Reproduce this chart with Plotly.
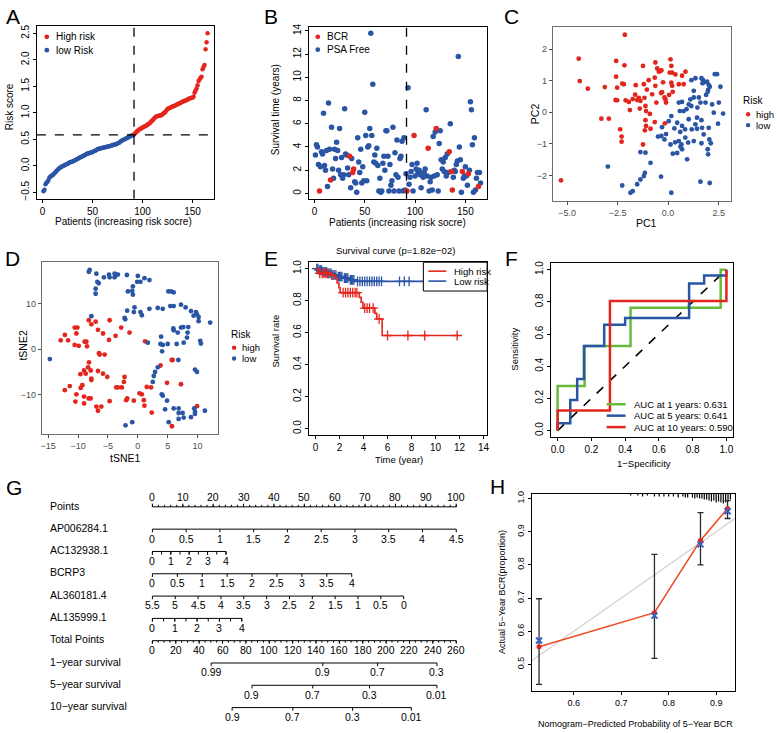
import plotly.graph_objects as go
import numpy as np

W, H = 777, 733
FONT = "Liberation Sans, Arial, sans-serif"
RED = "#E3261D"
BLUE = "#2A55A5"
GREEN = "#67BB3A"
GGGRAY = "#4D4D4D"

# ---------------- data ----------------
# A: risk score per patient (sorted)
risk_score = [
    -0.48, -0.45, -0.35, -0.32, -0.30, -0.27, -0.22, -0.20, -0.19, -0.18,
    -0.16, -0.14, -0.12, -0.10, -0.08, -0.06, -0.04, -0.03, -0.02, -0.01,
    0.00, 0.01, 0.02, 0.03, 0.04, 0.05, 0.06, 0.07, 0.07, 0.08,
    0.09, 0.10, 0.11, 0.12, 0.13, 0.14, 0.15, 0.16, 0.17, 0.18,
    0.19, 0.20, 0.21, 0.22, 0.23, 0.23, 0.24, 0.25, 0.25, 0.26,
    0.27, 0.28, 0.29, 0.30, 0.31, 0.32, 0.32, 0.33, 0.33, 0.34,
    0.34, 0.35, 0.35, 0.36, 0.36, 0.37, 0.37, 0.38, 0.38, 0.39,
    0.39, 0.40, 0.40, 0.41, 0.42, 0.43, 0.44, 0.46, 0.47, 0.48,
    0.49, 0.50, 0.51, 0.52, 0.53, 0.54, 0.55, 0.56, 0.57, 0.57,
    0.58,
    0.60, 0.62, 0.64, 0.66, 0.67, 0.69, 0.70, 0.71, 0.72, 0.73,
    0.74, 0.75, 0.76, 0.78, 0.79, 0.80, 0.82, 0.84, 0.86, 0.88,
    0.90, 0.92, 0.93, 0.94, 0.94, 0.95, 0.95, 0.96, 0.97, 0.99,
    1.00, 1.02, 1.05, 1.07, 1.08, 1.09, 1.10, 1.11, 1.12, 1.13,
    1.13, 1.14, 1.15, 1.16, 1.17, 1.18, 1.19, 1.20, 1.21, 1.22,
    1.22, 1.23, 1.24, 1.25, 1.26, 1.27, 1.28, 1.28, 1.29, 1.30,
    1.38, 1.42, 1.46, 1.52, 1.60, 1.63, 1.66, 1.68, 1.82, 1.87,
    1.90, 2.20, 2.33, 2.50,
]
n_low = 91
cutoff_patient = 91.5
cutoff_score = 0.585

# B: survival time (years) per patient, and which patients had BCR
surv_time = [
    3.3, 4.2, 4.0, 2.5, 0.2, 2.3, 3.6, 3.4, 6.9, 2.4,
    2.0, 3.7, 0.6, 7.8, 3.8, 1.15, 5.7, 2.1, 1.3, 3.8,
    3.0, 4.4, 3.7, 2.0, 5.6, 1.6, 3.1, 1.3, 1.6, 7.3,
    3.4, 3.3, 2.2, 1.6, 3.2, 0.5, 3.0, 1.8, 2.1, 1.0,
    0.9, 0.1, 4.8, 2.7, 1.8, 3.8, 0.9, 2.3, 1.1, 7.0,
    5.0, 1.1, 4.0, 4.1, 5.6, 13.8, 5.0, 9.4, 2.7, 3.3,
    2.6, 3.9, 2.4, 0.2, 1.3, 0.1, 0.2, 2.6, 3.2, 2.0,
    5.4, 5.4, 3.2, 0.2, 2.5, 0.7, 1.1, 5.7, 0.2, 3.5,
    1.6, 4.6, 1.4, 0.2, 3.0, 3.2, 4.5, 0.2, 4.8, 0.3,
    1.7, 0.2, 9.1, 0.8, 1.4, 1.9, 2.5, 0.2, 5.0, 1.5,
    2.1, 2.6, 1.8, 2.0, 1.6, 0.5, 1.7, 1.4, 1.8, 2.1,
    7.2, 1.5, 3.9, 0.2, 1.0, 1.4, 0.3, 4.9, 1.5, 5.3,
    5.6, 1.6, 0.2, 4.3, 5.4, 2.9, 2.1, 2.7, 1.9, 3.1,
    1.5, 3.4, 1.8, 3.6, 6.0, 1.9, 0.3, 1.4, 2.0, 1.9,
    2.5, 2.8, 11.8, 4.0, 2.9, 0.1, 1.9, 1.3, 1.5, 2.3,
    1.5, 0.7, 1.7, 2.0, 7.9, 7.2, 4.2, 0.1, 4.8, 0.3,
    1.3, 1.8, 0.6, 1.8, 0.9,
]
bcr_patients = [5, 16, 35, 38, 39, 92, 99, 113, 121, 134, 136, 137, 147, 153, 163]

# C: PCA
pc1_high = [-2.14, -4.42, -4.37, -3.97, -3.13, -2.57, -2.57, -2.52, -2.27, -2.19, -2.16, -2.6, -2.52,
            -2.1, -1.94, -1.89, -1.6, -1.63, -1.53, -1.45, -1.37, -1.24, -1.2, -1.17, -1.12, -1.09,
            -1.12, -1.09, -1.15, -0.96, -0.87, -0.79, -0.66, -0.63, -0.54, -0.46, -0.38, -0.33, -0.63,
            -0.58, -0.35, -0.3, -0.18, -0.13, -0.1, -0.66, -0.16, 0.12, 0.16, 0.2, 0.08, 0.16, 0.2,
            0.23, 0.36, 0.53, 0.69, 0.86, 0.77, -2.93, -3.3, -2.37, -2.3, -2.3, -1.24, -5.3,
            -1.05, -0.9, -1.75, -0.25, 0.05, -1.4]
pc2_high = [2.46, 1.70, 0.99, 0.75, 0.80, 1.63, 1.13, 0.78, 0.91, 0.89, 1.49, 0.39, 0.38,
            0.38, 0.33, 0.07, 0.86, 0.56, 0.39, 0.46, 0.36, 1.47, 0.89, 0.46, 0.2, 0.04,
            -0.25, -0.43, -0.57, 1.02, -0.52, 0.57, 1.1, 1.58, 1.39, 1.29, 1.31, 1.33, 0.84,
            0.31, 0.61, 0.64, 0.47, 0.41, 0.31, -0.31, -0.35, 1.68, 1.47, 1.26, 1.26, 0.94, 0.84,
            0.65, 1.2, 0.89, 1.16, 1.29, 0.89, -0.2, -0.2, -0.54, -0.77, -0.93, -1.02, -2.16,
            0.72, -0.05, 0.42, 0.95, 0.55, 0.12]
pc1_low = [1.15, 1.35, 1.65, 1.73, 1.81, 1.93, 2.01, 1.98, 2.06, 2.31, 2.42, 2.59, 1.27, 1.52, 1.6,
           1.85, 1.96, 2.18, 2.51, 2.72, 2.26, 1.27, 1.1, 1.02, 0.69, 0.53, 0.58, 0.77, 0.91, 1.15,
           1.43, 1.65, 1.35, 1.02, 0.69, 0.45, 0.16, 0.03, 0.31, 0.6, 0.84, 1.17, 1.43, 1.68, 2.01,
           2.47, 1.76, 2.04, 1.96, 1.98, 1.65, 1.27, 0.99, 0.66, 0.53, 0.61, 0.69, 0.94, 0.45, 0.23,
           0.12, -0.18, -0.33, -0.5, -0.1, -0.3, -0.87, -1.12, -1.37, -1.15, -1.2, -1.37, -1.53,
           -1.75, -1.86, -2.27, -2.98, -0.35, 0.16, 1.6, 2.06, 2.11, 1.7, 1.88, 1.45, 0.35, 0.85]
pc2_low = [1.02, 1.08, 1.08, 1.02, 0.96, 0.97, 0.87, 0.71, 0.81, 1.21, 1.21, 0.81, 0.68, 0.47, 0.31,
           0.31, 0.65, 0.25, 0.31, -0.04, -0.01, 0.47, 0.41, 0.25, 0.33, 0.31, 0.04, 0.04, 0.1, 0.2,
           -0.17, -0.25, -0.38, -0.22, -0.43, -0.33, -0.12, -0.28, -0.51, -0.62, -0.54, -0.54, -0.52,
           -0.49, -0.49, -0.36, -0.7, -0.86, -1.17, -1.33, -0.98, -0.91, -0.96, -1.02, -0.91, -1.09,
           -1.17, -1.49, -1.29, -1.31, -1.02, -0.86, -0.75, -0.77, -0.69, -0.47, -1.6, -1.28, -1.26,
           -1.92, -2.02, -2.13, -2.28, -2.5, -2.55, -2.32, -1.72, -2.04, -2.55, -2.2, -2.24, -0.98,
           0.92, 0.55, 0.15, -0.95, -0.8]

# D: tSNE
tsne1_high = [-8.2, -7.78, -7.06, -6.67, -5.83, -4.72, -3.72, -2.78, -1.39, -4.83, -10.56, -10.11,
              -12.2, -12.9, -11.67, -10.28, -8.89, -8.61, -8.5, -9.89, -10.56, -6.5, -5.56, -6.39,
              -8.17, -8.33, -9.0, -7.89, -8.72, -9.61, -6.67, -5.83, -5.11, -7.78, -9.28, -9.56,
              -11.39, -12.22, -7.78, -10.28, -9.0, -8.22, -7.89, -10.44, -9.0, -6.94, -6.67, -6.11,
              -4.72, -3.61, -3.33, -2.67, -2.33, -2.22, -1.94, -1.78, -0.67, 0.28, 0.67, 1.0, 1.11,
              1.5, 2.22, 2.33, 3.8, 4.89, 5.67, 5.83, 7.22, 1.22, 9.9, 5.7]
tsne2_high = [6.3, 5.4, 6.0, 4.2, 3.4, 6.3, 2.9, 4.7, 3.6, 2.0, 4.7, 4.7,
              3.1, 1.9, 1.9, 3.4, 1.6, 1.6, 0.6, 0.7, 0.9, -0.9, -1.2, -1.2,
              -2.9, -4.0, -4.7, -4.7, -5.4, -5.5, -4.8, -5.4, -6.1, -6.5, -7.9, -8.5,
              -8.1, -9.0, -6.8, -9.9, -10.4, -10.8, -10.8, -11.5, -11.9, -12.6, -13.5, -12.6,
              -11.4, -8.4, -8.4, -8.4, -7.2, -6.1, -11.2, -10.8, -11.3, -9.7, -9.9, -11.2, -12.4,
              -8.3, -8.4, -13.9, -3.6, -7.4, -2.4, -2.4, -7.7, 1.7, -12.5, -16.9]
tsne1_low = [-8.06, -8.2, -6.94, -6.78, -6.56, -7.06, -7.06, -5.67, -4.83, -4.72, -3.89, -3.61, -3.89,
             -3.33, -1.83, -0.83, -1.67, -0.94, -0.83, -0.11, 0.0, 0.44, 1.11, 1.94, 5.11, 5.56, 6.0,
             -7.78, -2.22, -2.11, -1.78, -0.67, -0.56, 0.44, 0.67, 1.94, 3.33, 4.17, 5.44, 6.0, 7.22,
             8.0, 8.89, 9.72, 9.89, 9.33, 10.17, 10.17, 12.1, 5.94, 6.0, 7.22, 7.61, 8.44, 8.33, 8.22,
             6.67, 3.89, 1.67, 3.78, 4.17, 5.0, 6.5, 7.67, 10.44, 10.56, 4.06, -14.72, 6.78, 9.56,
             9.89, 3.33, 2.89, 2.67, 2.5, 4.0, 4.17, 4.89, 4.56, 6.0, 6.83, 6.83, 7.5, 7.67, 6.83,
             5.17, 9.44, 9.56, 9.56, 8.89, 11.22, -2.06, -0.94]
tsne2_low = [17.3, 16.9, 16.5, 14.7, 14.4, 13.2, 12.1, 15.7, 16.3, 15.7, 16.5, 16.3, 15.7,
             16.3, 16.2, 13.7, 12.6, 12.7, 11.9, 14.7, 16.0, 14.7, 15.5, 15.1, 12.6, 12.6, 12.4,
             7.2, 6.8, 6.5, 8.4, 8.1, 9.1, 8.1, 7.4, 8.8, 9.0, 8.8, 9.4, 9.4, 9.7,
             9.1, 8.3, 8.1, 7.6, 7.3, 7.0, 6.1, 5.8, 4.5, 4.1, 4.7, 4.8, 4.8, 3.6, 2.5,
             3.6, 2.7, 1.4, 1.1, 0.9, 1.1, 1.1, 1.4, 1.8, 1.2, -0.5, -2.2, -2.4, -4.5,
             -5.0, -4.0, -5.0, -5.9, -7.2, -9.9, -10.2, -11.3, -13.2, -13.0, -13.0, -14.0, -14.0, -15.0, -15.3,
             -16.0, -13.0, -13.7, -14.2, -14.9, -13.5, -16.7, -16.0]

# E: Kaplan-Meier
km_high_time = [0, 0.2, 1.2, 1.6, 1.8, 1.95, 2.05, 3.65, 3.8, 3.95, 4.95, 5.1, 5.55, 11.9]
km_high_surv = [1.0, 0.97, 0.96, 0.94, 0.91, 0.88, 0.85, 0.82, 0.79, 0.753, 0.72, 0.685, 0.582, 0.582]
km_high_censor = [0.35, 0.55, 0.7, 0.85, 1.0, 1.35, 2.3, 2.5, 2.7, 2.9, 3.1, 3.3, 3.45, 4.1, 4.3,
                  4.5, 4.8, 5.3, 6.0, 7.7, 9.1, 11.8]
km_low_time = [0, 0.3, 0.6, 1.0, 1.4, 1.8, 2.3, 2.8, 3.3, 13.8]
km_low_surv = [1.0, 0.99, 0.98, 0.97, 0.96, 0.95, 0.94, 0.93, 0.92, 0.92]
km_low_censor = [0.1, 0.2, 0.3, 0.4, 0.5, 0.6, 0.7, 0.8, 0.9, 1.0, 1.1, 1.2, 1.3, 1.45, 1.55, 1.7,
                 1.9, 2.0, 2.1, 2.2, 2.4, 2.5, 2.6, 2.7, 2.9, 3.0, 3.1, 3.2, 3.5, 3.7, 3.9, 4.1,
                 4.3, 4.5, 4.7, 4.9, 5.1, 5.3, 5.5, 7.0, 7.4, 7.8, 9.1, 10.7, 13.8]
km_title = "Survival curve (p=1.82e−02)"

# F: time-dependent ROC
roc1_fpr = [0, 0, 0.16, 0.432, 0.966, 1.0]
roc1_tpr = [0, 0.277, 0.525, 0.764, 1.0, 1.0]
roc5_fpr = [0, 0, 0.075, 0.116, 0.156, 0.276, 0.40, 0.779, 0.868, 1.0, 1.0]
roc5_tpr = [0, 0.045, 0.19, 0.32, 0.525, 0.658, 0.699, 0.914, 0.963, 0.963, 1.0]
roc10_fpr = [0, 0, 0.31, 1.0, 1.0]
roc10_tpr = [0, 0.125, 0.805, 0.805, 1.0]
roc_labels = ["AUC at 1 years: 0.631", "AUC at 5 years: 0.641", "AUC at 10 years: 0.590"]

# G: nomogram
nomo_rows = ["Points", "AP006284.1", "AC132938.1", "BCRP3", "AL360181.4", "AL135999.1",
             "Total Points", "1−year survival", "5−year survival", "10−year survival"]
points_ticks = [0, 10, 20, 30, 40, 50, 60, 70, 80, 90, 100]
ap_values = [0, 0.5, 1, 1.5, 2, 2.5, 3, 3.5, 4, 4.5]
ap_max_value, ap_max_points = 4.5, 100.0
ac_values = [0, 1, 2, 3, 4]
ac_max_value, ac_max_points = 4, 24.2
bcrp3_values = [0, 0.5, 1, 1.5, 2, 2.5, 3, 3.5, 4]
bcrp3_max_value, bcrp3_max_points = 4, 65.6
al36_values = [5.5, 5, 4.5, 4, 3.5, 3, 2.5, 2, 1.5, 1, 0.5, 0]
al36_top_value, al36_max_points = 5.5, 82.7
al13_values = [0, 1, 2, 3, 4]
al13_max_value, al13_max_points = 4, 29.4
total_ticks = [0, 20, 40, 60, 80, 100, 120, 140, 160, 180, 200, 220, 240, 260]
total_max = 260
surv1_labels = ["0.99", "0.9", "0.7", "0.3"]
surv1_total = [50.3, 145.8, 192.7, 243.5]
surv5_labels = ["0.9", "0.7", "0.3", "0.01"]
surv5_total = [85.2, 137.2, 185.8, 243.5]
surv10_labels = ["0.9", "0.7", "0.3", "0.01"]
surv10_total = [68.2, 120.2, 171.3, 221.6]

# H: calibration
cal_pred = [0.527, 0.770, 0.867, 0.924]
cal_obs = [0.553, 0.656, 0.874, 0.970]
cal_corr = [0.572, 0.647, 0.862, 0.962]
cal_lo = [0.440, 0.518, 0.800, 0.940]
cal_hi = [0.698, 0.832, 0.958, 0.994]
rug_x = [0.72, 0.735, 0.745, 0.755, 0.77, 0.78, 0.79, 0.80, 0.81, 0.82, 0.83, 0.835, 0.84, 0.85,
         0.855, 0.86, 0.865, 0.87, 0.875, 0.88, 0.885, 0.89, 0.895, 0.90, 0.905, 0.91, 0.915, 0.92,
         0.925, 0.93]
rug_h = [0.006, 0.006, 0.009, 0.006, 0.009, 0.009, 0.009, 0.009, 0.009, 0.012, 0.009, 0.012, 0.012,
         0.012, 0.015, 0.012, 0.015, 0.015, 0.018, 0.018, 0.021, 0.024, 0.021, 0.027, 0.024, 0.027,
         0.030, 0.027, 0.024, 0.018]

# ---------------- helpers ----------------
def dom(x0, x1, y0, y1):
    return [x0 / W, x1 / W], [1 - y1 / H, 1 - y0 / H]

ann = []
shapes = []

def text(x, y, s, size=10, color="black", angle=0, xanchor="center", yanchor="middle"):
    ann.append(dict(x=x / W, y=1 - y / H, xref="paper", yref="paper", text=s, showarrow=False,
                    font=dict(size=size, color=color, family=FONT), textangle=angle,
                    xanchor=xanchor, yanchor=yanchor))

def dot(x, y, color, r=2.4):
    shapes.append(dict(type="circle", xref="paper", yref="paper", x0=(x - r) / W, x1=(x + r) / W,
                       y0=1 - (y + r) / H, y1=1 - (y - r) / H, fillcolor=color,
                       line=dict(width=0, color=color)))

def seg(x0, y0, x1, y1, color, width=1.0, dash="solid"):
    shapes.append(dict(type="line", xref="paper", yref="paper", x0=x0 / W, x1=x1 / W,
                       y0=1 - y0 / H, y1=1 - y1 / H, line=dict(color=color, width=width, dash=dash)))

def base_axis(domain, rng, tickvals, anchor, angle=0, fmt=None, size=10):
    d = dict(domain=domain, range=rng, anchor=anchor, showgrid=False, zeroline=False,
             showline=True, mirror=True, linecolor="black", linewidth=1, ticks="outside",
             ticklen=3, tickwidth=1, tickcolor="black", tickvals=tickvals, tickangle=angle,
             tickfont=dict(size=size, color="black", family=FONT))
    if fmt:
        d["tickformat"] = fmt
    return d

def gg_axis(domain, rng, tickvals, anchor, fmt=None):
    d = dict(domain=domain, range=rng, anchor=anchor, showgrid=False, zeroline=False,
             showline=True, mirror=True, linecolor="#6E6E6E", linewidth=1.2, ticks="outside",
             ticklen=3, tickwidth=1, tickcolor="#4D4D4D", tickvals=tickvals,
             tickfont=dict(size=9, color=GGGRAY, family=FONT))
    if fmt:
        d["tickformat"] = fmt
    return d

fig = go.Figure()
layout = {}

# ---------------- A ----------------
n = len(risk_score)
idx = list(range(1, n + 1))
fig.add_trace(go.Scatter(x=idx[:n_low], y=risk_score[:n_low], mode="markers", xaxis="x", yaxis="y",
                         marker=dict(color=BLUE, size=4.5), showlegend=False))
fig.add_trace(go.Scatter(x=idx[n_low:], y=risk_score[n_low:], mode="markers", xaxis="x", yaxis="y",
                         marker=dict(color=RED, size=4.5), showlegend=False))
dx, dy = dom(36, 214, 23, 197)
layout["xaxis"] = base_axis(dx, [-5.6, 171.6], [0, 50, 100, 150], "y")
layout["yaxis"] = base_axis(dy, [-0.62, 2.64], [-0.5, 0, 0.5, 1.0, 1.5, 2.0, 2.5], "x", angle=-90, fmt=".1f")
shapes.append(dict(type="line", xref="x", yref="y domain", x0=cutoff_patient, x1=cutoff_patient, y0=0, y1=1,
                   line=dict(color="black", width=1.3, dash="dash")))
shapes.append(dict(type="line", xref="x domain", yref="y", x0=0, x1=1, y0=cutoff_score, y1=cutoff_score,
                   line=dict(color="black", width=1.3, dash="dash")))
dot(46, 34, RED); text(53, 34, "High risk", xanchor="left")
dot(46, 47.5, BLUE); text(53, 47.5, "low Risk", xanchor="left")
text(123, 220, "Patients (increasing risk socre)")
text(8, 104, "Risk score", angle=-90)

# ---------------- B ----------------
bcr_set = set(bcr_patients)
bx_blue = [i for i in idx if i not in bcr_set]
by_blue = [surv_time[i - 1] for i in bx_blue]
bx_red = [i for i in idx if i in bcr_set]
by_red = [surv_time[i - 1] for i in bx_red]
fig.add_trace(go.Scatter(x=bx_blue, y=by_blue, mode="markers", xaxis="x2", yaxis="y2",
                         marker=dict(color=BLUE, size=5.5), showlegend=False))
fig.add_trace(go.Scatter(x=bx_red, y=by_red, mode="markers", xaxis="x2", yaxis="y2",
                         marker=dict(color=RED, size=5.5), showlegend=False))
dx, dy = dom(309, 488, 24, 197)
layout["xaxis2"] = base_axis(dx, [-5.6, 171.6], [0, 50, 100, 150], "y2")
layout["yaxis2"] = base_axis(dy, [-0.45, 14.35], [0, 2, 4, 6, 8, 10, 12, 14], "x2", angle=-90)
shapes.append(dict(type="line", xref="x2", yref="y2 domain", x0=cutoff_patient, x1=cutoff_patient, y0=0, y1=1,
                   line=dict(color="black", width=1.3, dash="dash")))
dot(318, 34, RED); text(325, 34, "BCR", xanchor="left")
dot(318, 47, BLUE); text(325, 47, "PSA Free", xanchor="left")
text(398, 221, "Patients (increasing risk socre)")
text(275, 107, "Survival time (years)", angle=-90)

# ---------------- C ----------------
fig.add_trace(go.Scatter(x=pc1_high, y=pc2_high, mode="markers", xaxis="x3", yaxis="y3",
                         marker=dict(color=RED, size=4.8), showlegend=False))
fig.add_trace(go.Scatter(x=pc1_low, y=pc2_low, mode="markers", xaxis="x3", yaxis="y3",
                         marker=dict(color=BLUE, size=4.8), showlegend=False))
dx, dy = dom(554, 733, 24, 199)
layout["xaxis3"] = gg_axis(dx, [-5.7, 3.12], [-5.0, -2.5, 0.0, 2.5], "y3", fmt=".1f")
layout["yaxis3"] = gg_axis(dy, [-2.8, 2.71], [-2, -1, 0, 1, 2], "x3")
text(648, 222, "PC1", size=10.5)
text(536, 111, "PC2", size=10.5, angle=-90)
text(743, 98, "Risk", size=10, xanchor="left")
dot(750, 112, RED, 2.2); text(756, 112, "high", size=9.5, xanchor="left")
dot(750, 123, BLUE, 2.2); text(756, 123, "low", size=9.5, xanchor="left")

# ---------------- D ----------------
fig.add_trace(go.Scatter(x=tsne1_high, y=tsne2_high, mode="markers", xaxis="x4", yaxis="y4",
                         marker=dict(color=RED, size=4.8), showlegend=False))
fig.add_trace(go.Scatter(x=tsne1_low, y=tsne2_low, mode="markers", xaxis="x4", yaxis="y4",
                         marker=dict(color=BLUE, size=4.8), showlegend=False))
dx, dy = dom(41, 218, 261, 434)
layout["xaxis4"] = gg_axis(dx, [-16.06, 13.44], [-15, -10, -5, 0, 5, 10], "y4")
layout["yaxis4"] = gg_axis(dy, [-18.6, 19.0], [-10, 0, 10], "x4")
text(125, 458, "tSNE1", size=10.5)
text(22, 344, "tSNE2", size=10.5, angle=-90)
text(229, 334, "Risk", size=10, xanchor="left")
dot(234, 347, RED, 2.2); text(240, 347, "high", size=9.5, xanchor="left")
dot(234, 358, BLUE, 2.2); text(240, 358, "low", size=9.5, xanchor="left")

# ---------------- E ----------------
def km_lookup(times, surv, t):
    i = int(np.searchsorted(np.array(times), t, side="right")) - 1
    return surv[max(i, 0)]

for t_, s_, cens, col in [(km_low_time, km_low_surv, km_low_censor, BLUE),
                          (km_high_time, km_high_surv, km_high_censor, RED)]:
    fig.add_trace(go.Scatter(x=t_, y=s_, mode="lines", line=dict(color=col, width=1.6, shape="hv"),
                             xaxis="x5", yaxis="y5", showlegend=False))
    fig.add_trace(go.Scatter(x=cens, y=[km_lookup(t_, s_, c) for c in cens], mode="markers",
                             marker=dict(symbol="cross-thin", size=7, line=dict(color=col, width=1.3)),
                             xaxis="x5", yaxis="y5", showlegend=False))
dx, dy = dom(309, 488, 261, 435)
layout["xaxis5"] = base_axis(dx, [-0.56, 14.3], [0, 2, 4, 6, 8, 10, 12, 14], "y5")
layout["yaxis5"] = base_axis(dy, [-0.04, 1.04], [0, 0.2, 0.4, 0.6, 0.8, 1.0], "x5", angle=-90, fmt=".1f")
text(396, 249, km_title, size=9.5)
text(276, 340, "Survival rate", angle=-90, size=9.5)
text(400, 460, "Time (year)", size=9.5)
shapes.append(dict(type="rect", xref="paper", yref="paper", x0=424 / W, x1=488 / W, y0=1 - 290 / H,
                   y1=1 - 261 / H, line=dict(color="black", width=1), fillcolor="white"))
seg(429, 270, 447, 270, RED, 1.6)
seg(429, 280, 447, 280, BLUE, 1.6)
text(453, 270, "High risk", size=9.5, xanchor="left")
text(453, 280, "Low risk", size=9.5, xanchor="left")

# ---------------- F ----------------
fig.add_trace(go.Scatter(x=[0, 1], y=[0, 1], mode="lines", line=dict(color="black", width=1.6, dash="dash"),
                         xaxis="x6", yaxis="y6", showlegend=False))
for fx, fy, col in [(roc1_fpr, roc1_tpr, GREEN), (roc5_fpr, roc5_tpr, BLUE), (roc10_fpr, roc10_tpr, RED)]:
    fig.add_trace(go.Scatter(x=fx, y=fy, mode="lines", line=dict(color=col, width=2.5, shape="hv"),
                             xaxis="x6", yaxis="y6", showlegend=False))
dx, dy = dom(552, 735, 262, 437)
layout["xaxis6"] = base_axis(dx, [-0.04, 1.04], [0, 0.2, 0.4, 0.6, 0.8, 1.0], "y6", fmt=".1f")
layout["yaxis6"] = base_axis(dy, [-0.04, 1.04], [0, 0.2, 0.4, 0.6, 0.8, 1.0], "x6", angle=-90, fmt=".1f")
for k, (lab, col) in enumerate(zip(roc_labels, [GREEN, BLUE, RED])):
    yy = 404 + k * 11.5
    seg(608, yy, 627, yy, col, 2.5)
    text(633, yy, lab, size=9.5, xanchor="left")
text(516, 349, "Sensitivity", angle=-90, size=9.5)
text(645, 464, "1−Specificity", size=9.5)

# ---------------- G (nomogram) ----------------
tick_len = 0.14

def pts_for(values, fn):
    return [fn(v) for v in values]

scales = [
    (points_ticks, [str(v) for v in points_ticks], "up"),
    (pts_for(ap_values, lambda v: v / ap_max_value * ap_max_points), [f"{v:g}" for v in ap_values], "down"),
    (pts_for(ac_values, lambda v: v / ac_max_value * ac_max_points), [f"{v:g}" for v in ac_values], "down"),
    (pts_for(bcrp3_values, lambda v: v / bcrp3_max_value * bcrp3_max_points), [f"{v:g}" for v in bcrp3_values], "down"),
    (pts_for(al36_values, lambda v: (al36_top_value - v) / al36_top_value * al36_max_points), [f"{v:g}" for v in al36_values], "down"),
    (pts_for(al13_values, lambda v: v / al13_max_value * al13_max_points), [f"{v:g}" for v in al13_values], "down"),
    (pts_for(total_ticks, lambda v: v / total_max * 100), [str(v) for v in total_ticks], "down"),
    (pts_for(surv1_total, lambda v: v / total_max * 100), surv1_labels, "down"),
    (pts_for(surv5_total, lambda v: v / total_max * 100), surv5_labels, "down"),
    (pts_for(surv10_total, lambda v: v / total_max * 100), surv10_labels, "down"),
]
minor = {
    0: (pts_for(list(range(0, 101, 2)), lambda v: v), 0.09),
    2: (pts_for([v / 2 for v in range(0, 9)], lambda v: v / ac_max_value * ac_max_points), tick_len),
    5: (pts_for([v / 2 for v in range(0, 9)], lambda v: v / al13_max_value * al13_max_points), tick_len),
    6: (pts_for(list(range(0, 261, 5)), lambda v: v / total_max * 100), 0.09),
}
for r, (pos, labs, direction) in enumerate(scales):
    sgn = -1 if direction == "up" else 1
    xs = [min(pos), max(pos), None]
    ys = [r, r, None]
    for p in pos:
        xs += [p, p, None]
        ys += [r, r + sgn * tick_len, None]
    if r in minor:
        mp, ml = minor[r]
        for p in mp:
            xs += [p, p, None]
            ys += [r, r + sgn * ml, None]
    fig.add_trace(go.Scatter(x=xs, y=ys, mode="lines", line=dict(color="black", width=1),
                             xaxis="x7", yaxis="y7", showlegend=False, hoverinfo="skip"))
    ly = r - 0.46 if direction == "up" else r + 0.42
    for p, lab in zip(pos, labs):
        ann.append(dict(x=p, y=ly, xref="x7", yref="y7", text=lab, showarrow=False,
                        font=dict(size=10.5, color="black", family=FONT), xanchor="center", yanchor="middle"))
    ann.append(dict(x=-34.4, y=r - 0.06, xref="x7", yref="y7", text=nomo_rows[r], showarrow=False,
                    font=dict(size=10.5, color="black", family=FONT), xanchor="left", yanchor="middle"))
gx0, gx1 = 0, 530
layout["xaxis7"] = dict(domain=[gx0 / W, gx1 / W], range=[(gx0 - 152) / 3.05, (gx1 - 152) / 3.05],
                        anchor="y7", visible=False)
layout["yaxis7"] = dict(domain=[1 - 733 / H, 1 - 480 / H],
                        range=[(733 - 507.3) / 22.46, (480 - 507.3) / 22.46], anchor="x7", visible=False)

# ---------------- H (calibration) ----------------
fig.add_trace(go.Scatter(x=[0.4, 1.0], y=[0.4, 1.0], mode="lines", line=dict(color="#D6D6D6", width=1.5),
                         xaxis="x8", yaxis="y8", showlegend=False))
top = 1.015
rx, ry = [], []
for x_, h_ in zip(rug_x, rug_h):
    rx += [x_, x_, None]
    ry += [top, top - h_, None]
fig.add_trace(go.Scatter(x=rx, y=ry, mode="lines", line=dict(color="black", width=1.2),
                         xaxis="x8", yaxis="y8", showlegend=False))
fig.add_trace(go.Scatter(x=cal_pred, y=cal_obs, mode="markers", marker=dict(size=0.1, color="rgba(0,0,0,0)"),
                         error_y=dict(type="data", symmetric=False,
                                      array=[h - o for h, o in zip(cal_hi, cal_obs)],
                                      arrayminus=[o - l for o, l in zip(cal_obs, cal_lo)],
                                      color="#2B2B2B", thickness=1.3, width=3),
                         xaxis="x8", yaxis="y8", showlegend=False))
fig.add_trace(go.Scatter(x=cal_pred, y=cal_obs, mode="lines+markers", line=dict(color="#EE4B22", width=1.6),
                         marker=dict(color="#E3261D", size=5), xaxis="x8", yaxis="y8", showlegend=False))
fig.add_trace(go.Scatter(x=cal_pred, y=cal_corr, mode="markers",
                         marker=dict(symbol="x-thin", size=6, line=dict(color="#3562C0", width=2)),
                         xaxis="x8", yaxis="y8", showlegend=False))
dx, dy = dom(533, 737, 494, 693)
layout["xaxis8"] = base_axis(dx, [0.512, 0.94], [0.6, 0.7, 0.8, 0.9], "y8", fmt=".1f", size=9)
layout["yaxis8"] = base_axis(dy, [0.419, 1.015], [0.5, 0.6, 0.7, 0.8, 0.9, 1.0], "x8", angle=-90, fmt=".1f", size=9)
text(503, 593, "Actual 5−Year BCR(proportion)", angle=-90, size=9)
text(637, 726, "Nomogram−Predicted Probability of 5−Year BCR", size=9)

# ---------------- panel letters ----------------
for lab, x, y in [("A", 3, 14), ("B", 262, 14), ("C", 503, 14), ("D", 2, 257), ("E", 262, 257),
                  ("F", 504, 257), ("G", 3, 488), ("H", 489, 487)]:
    text(x, y, lab, size=21, xanchor="left")

layout.update(dict(width=W, height=H, margin=dict(l=0, r=0, t=0, b=0), paper_bgcolor="white",
                   plot_bgcolor="white", showlegend=False, annotations=ann, shapes=shapes,
                   font=dict(family=FONT, color="black")))
fig.update_layout(**layout)
fig.write_html("out.html", config={"displayModeBar": False},
               post_script="document.body.style.margin='0';document.body.style.padding='0';")
